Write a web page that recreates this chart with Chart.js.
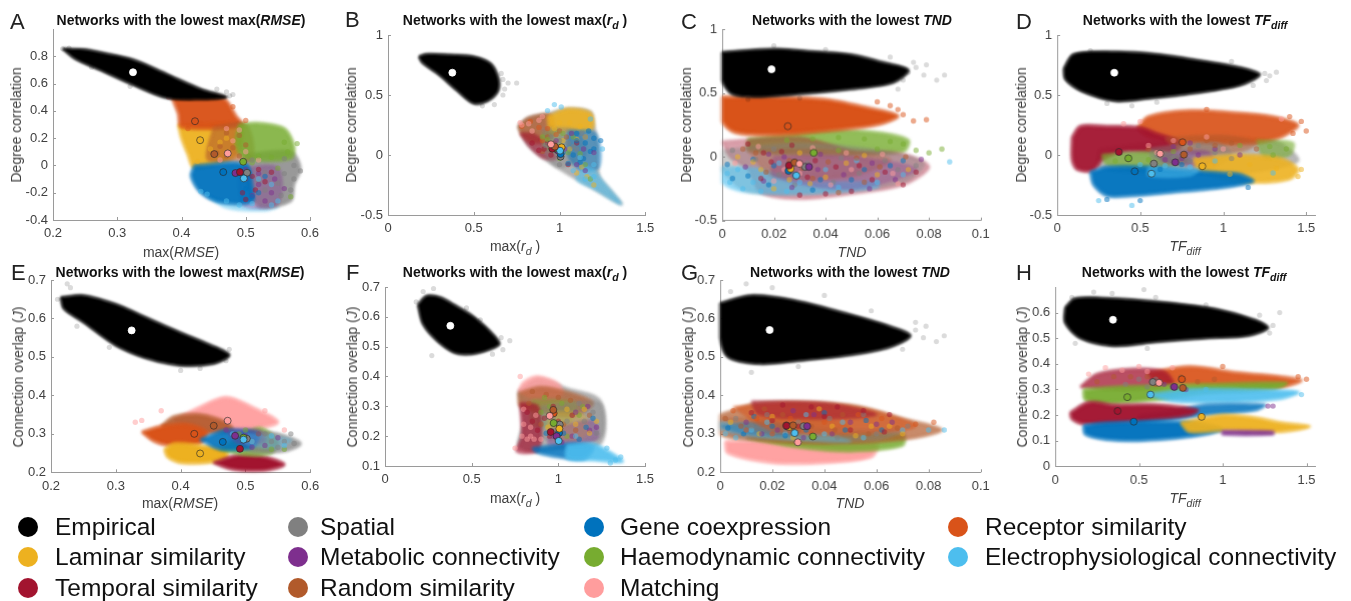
<!DOCTYPE html>
<html><head><meta charset="utf-8">
<script src="https://cdn.jsdelivr.net/npm/chart.js@4/dist/chart.umd.min.js"></script>
<style>
html,body{margin:0;padding:0;background:#fff;width:1351px;height:601px;overflow:hidden;font-family:"Liberation Sans",Arial,sans-serif}
.box{position:absolute;filter:blur(.4px)}
.t{position:absolute;white-space:nowrap;transform:translate(-50%,-50%);filter:blur(.25px);color:#404040;font-size:14px}
.t sub{font-size:.75em;vertical-align:-.35em;line-height:0}
.ti{color:#111;font-weight:bold;font-size:14px}
.l{color:#222;font-size:22px;transform:translate(0,-50%)}
.yl{transform:translate(-50%,-50%) rotate(-90deg)}
.leg{position:absolute;white-space:nowrap;transform:translateY(-50%);color:#111;font-size:24.5px;filter:blur(.25px)}
.dot{position:absolute;width:20px;height:20px;border-radius:50%;transform:translate(-50%,-50%)}
</style></head><body>
<script>
// Series, in legend order
const seriesNames=["Empirical","Spatial","Gene coexpression","Receptor similarity","Laminar similarity","Metabolic connectivity","Haemodynamic connectivity","Electrophysiological connectivity","Temporal similarity","Random similarity","Matching"];
const seriesColors=["#000000","#808080","#0072BD","#D95319","#EDB120","#7E2F8E","#77AC30","#4DBEEE","#A2142F","#B15A2B","#FF9D9D"];

// Axis ticks
const ticksRMSE=[0.2,0.3,0.4,0.5,0.6];
const ticksRd=[0,0.5,1,1.5];
const ticksTND=[0,0.02,0.04,0.06,0.08,0.1];
const ticksTF=[0,0.5,1,1.5];
const ticksDegA=[-0.4,-0.2,0,0.2,0.4,0.6,0.8];
const ticksDeg=[-0.5,0,0.5,1];
const ticksJ=[0.2,0.3,0.4,0.5,0.6,0.7];
const ticksJF=[0.1,0.2,0.3,0.4,0.5,0.6,0.7];
const ticksJH=[0,0.1,0.2,0.3,0.4,0.5,0.6];

// Medians, one per series in legend order
const medA_x=[.3245,.502,.465,.421,.429,.484,.496,.497,.491,.451,.472];
const medA_y=[.683,-.054,-.049,.324,.185,-.056,.027,-.095,-.049,.083,.088];
const medB_x=[.375,1.006,1.006,.973,1.012,.99,.973,1.003,.958,.973,.95];
const medB_y=[.686,-.014,.008,.06,.064,.04,.055,.036,.053,.07,.089];
const medC_x=[.0191,.0321,.0257,.0254,.0265,.0336,.0354,.0287,.0259,.028,.0299];
const medC_y=[.685,-.079,-.11,.239,-.094,-.079,.031,-.147,-.068,-.045,-.055];
const medD_x=[.344,.582,.467,.755,.874,.711,.429,.568,.372,.763,.62];
const medD_y=[.686,-.072,-.136,.106,-.094,-.061,-.028,-.156,.025,.003,.011];
const medE_x=[.3244,.502,.465,.421,.43,.484,.497,.497,.4915,.451,.4725];
const medE_y=[.569,.2875,.279,.3,.249,.295,.29,.285,.261,.321,.334];
const medF_x=[.377,1.008,1.004,.973,1.006,.99,.973,1.002,.956,.971,.95];
const medF_y=[.57,.239,.211,.2765,.225,.2,.244,.184,.214,.288,.268];
const medG_x=[.019,.032,.0258,.0254,.0266,.0334,.0356,.0286,.0255,.028,.0298];
const medG_y=[.57,.32,.319,.322,.318,.32,.293,.302,.321,.322,.278];
const medH_x=[.345,.583,.469,.756,.874,.711,.431,.569,.373,.762,.62];
const medH_y=[.572,.329,.174,.34,.193,.31,.27,.28,.216,.306,.326];

// Cloud extents (dense part of each cloud) and scattered networks
const A_EmpHull=[[.215,.855],[.25,.85],[.273,.83],[.325,.775],[.377,.67],[.43,.56],[.47,.5],[.43,.485],[.377,.495],[.325,.59],[.273,.7],[.235,.78]];
const A_EmpOut=[[.215,.855],[.225,.86],[.475,.51],[.48,.52],[.47,.54],[.455,.56],[.26,.72],[.32,.58]];
const A_RecHull=[[.385,.5],[.465,.49],[.485,.36],[.495,.29],[.4,.28],[.395,.38]];
const A_LamHull=[[.395,.3],[.49,.3],[.49,.1],[.47,.03],[.42,-.02],[.41,.08],[.4,.2]];
const A_RanHull=[[.45,.28],[.5,.3],[.51,.05],[.47,.03],[.44,.05]];
const A_HaeHull=[[.49,.3],[.52,.31],[.56,.27],[.575,.14],[.57,.05],[.5,.05],[.485,.15]];
const A_SpaHull=[[.5,.08],[.57,.1],[.585,-.02],[.575,-.14],[.57,-.26],[.52,-.3],[.5,-.1]];
const A_GenHull=[[.42,0],[.5,.01],[.51,-.15],[.51,-.27],[.46,-.27],[.43,-.2],[.415,-.08]];
const A_MetHull=[[.49,-.02],[.55,-.02],[.55,-.28],[.5,-.3],[.49,-.2]];
const A_EleHull=[[.44,-.22],[.5,-.3],[.55,-.3],[.53,-.33],[.47,-.31]];
const A_Rec=[[.48,.43],[.5,.33],[.41,.27],[.43,.31]];
const A_Lam=[[.46,.17],[.445,.12],[.425,.03],[.47,.2]];
const A_Ran=[[.47,.24],[.49,.22],[.46,.14],[.48,.13],[.455,.09],[.47,.07],[.49,.07],[.5,.15]];
const A_Mat=[[.48,.18],[.5,.1],[.47,.27],[.52,.04],[.38,.5],[.49,.26],[.46,.04]];
const A_Hae=[[.56,.17],[.565,.1],[.52,.07],[.54,.06],[.57,-.23],[.55,-.02],[.58,.16],[.51,.02]];
const A_Spa=[[.56,.05],[.575,0],[.585,-.04],[.53,-.05],[.56,-.06],[.575,-.1],[.55,-.13],[.57,-.18],[.555,-.22],[.53,-.18],[.51,.04],[.52,-.12]];
const A_Met=[[.5,-.1],[.52,-.14],[.54,-.2],[.51,-.22],[.53,-.26],[.5,-.03],[.52,-.06],[.545,-.1],[.56,-.17]];
const A_Tem=[[.49,-.05],[.51,-.08],[.495,-.2],[.52,-.03],[.53,-.12],[.515,-.18],[.54,-.05],[.5,-.25]];
const A_Ele=[[.47,-.26],[.49,-.29],[.51,-.28],[.54,-.29],[.44,-.21],[.43,-.19],[.52,-.1],[.54,-.14],[.55,-.26]];
const A_Gen=[[.5,-.17],[.505,-.05],[.51,-.23],[.52,-.2],[.53,-.08]];

const B_EmpHull=[[.18,.82],[.22,.84],[.35,.835],[.5,.82],[.6,.76],[.645,.63],[.64,.53],[.58,.45],[.5,.43],[.4,.54],[.3,.665],[.2,.77]];
const B_EmpOut=[[.67,.63],[.7,.6],[.75,.6],[.67,.5],[.62,.42],[.55,.41],[.68,.55],[.66,.68]];
const B_BaseHull=[[.76,.24],[.82,.31],[.92,.34],[1.05,.385],[1.18,.36],[1.2,.25],[1.22,.1],[1.23,-.17],[1.3,-.3],[1.36,-.41],[1.2,-.28],[1.05,-.16],[.92,-.04],[.82,.08]];
const B_LamHull=[[.93,.32],[1.05,.385],[1.18,.35],[1.19,.22],[1.05,.2],[.95,.2]];
const B_RanHull=[[.76,.24],[.82,.31],[.95,.33],[.96,.15],[.85,.1],[.78,.17]];
const B_TemHull=[[.77,.18],[.85,.17],[.95,.05],[.98,-.03],[.9,-.02],[.82,.08]];
const B_SpaHull=[[.9,.22],[1.1,.2],[1.15,0],[1,-.1],[.92,0]];
const B_GenHull=[[1.05,.2],[1.21,.18],[1.23,-.1],[1.12,-.12],[1.05,0]];
const B_EleHull=[[1.14,-.1],[1.2,-.12],[1.24,-.2],[1.36,-.41],[1.2,-.28],[1.1,-.2]];
const B_HaeHull=[[.9,.18],[1,.2],[1.02,.05],[.92,.05]];
const B_Lam=[[1,.27],[1.06,.27],[1.12,.24],[.97,.22],[1.16,-.18],[1.1,-.15],[1.2,-.25],[1.02,.12],[1.1,.13],[1.15,.15],[1.06,.05],[1.13,-.1],[.95,.07]];
const B_Ran=[[.97,.1],[1,.2],[.93,.15],[.9,.03],[1.04,.15]];
const B_Rec=[[.83,.28],[.88,.23],[.93,.22],[.78,.24],[.98,.17],[.9,.12]];
const B_Tem=[[.91,.05],[.95,0],[1.05,-.08],[.88,.04],[.93,.1],[1,.05],[.84,.1],[1.1,.1]];
const B_Mat=[[.78,.25],[.82,.26],[.77,.27],[.9,.32],[.84,.2],[.88,.29]];
const B_Spa=[[.95,.15],[1,.12],[1.05,.1],[1.1,.05],[.98,.03],[1.15,.15],[.92,.08],[1.08,.07],[1.13,.18],[1,-.08]];
const B_Hae=[[.93,.13],[1.02,.18],[1.08,.15],[1,-.03],[1.12,.01],[.9,.15],[1.05,.02],[1.15,-.08],[1.18,-.2]];
const B_Gen=[[1.1,.12],[1.15,.1],[1.18,.03],[1.14,-.03],[1.08,0],[1.2,.14],[1.05,-.07],[1.24,.12],[1.17,.2],[1.2,.05],[1.12,-.06],[1.1,.18],[1.02,.02]];
const B_Met=[[1.1,-.08],[1.03,.05],[1.14,.05],[1.15,-.13],[1.2,.02],[1.07,.18],[.98,.12]];
const B_Ele=[[1.2,-.18],[1.2,-.08],[1.15,-.2],[1.08,-.13],[.93,.37],[.97,.42],[1.25,.05],[1.01,.4],[1.18,.3],[1.12,-.02]];

const C_EmpHull=[[0,.82],[.02,.845],[.035,.825],[.05,.8],[.062,.74],[.072,.68],[.066,.58],[.05,.53],[.035,.5],[.015,.47],[.004,.49],[0,.6]];
const C_EmpOut=[[.072,.66],[.075,.7],[.079,.72],[.078,.64],[.083,.6],[.086,.64],[.07,.6],[.074,.74],[.065,.78],[.04,.84],[.02,.87],[.03,.46],[.01,.45],[.068,.53]];
const C_RecHull=[[0,.47],[.02,.47],[.04,.45],[.055,.39],[.068,.32],[.06,.25],[.04,.2],[.02,.17],[.005,.19],[0,.28]];
const C_HaeHull=[[.01,.14],[.04,.21],[.06,.19],[.072,.13],[.07,.04],[.04,.02],[.01,.05]];
const C_TemHull=[[0,.12],[.03,.15],[.05,.05],[.07,.02],[.08,-.08],[.07,-.22],[.05,-.29],[.03,-.33],[.015,-.28],[.01,-.1],[.003,0]];
const C_SpaHull=[[0,.05],[.03,.1],[.06,.05],[.078,-.05],[.07,-.2],[.04,-.28],[.01,-.27],[0,-.1]];
const C_EleHull=[[0,-.08],[.015,-.1],[.03,-.2],[.06,-.2],[.06,-.24],[.03,-.29],[.008,-.27],[0,-.2]];
const C_RanHull=[[.01,.05],[.04,.05],[.065,-.02],[.05,-.15],[.02,-.15]];
const C_MetHull=[[.02,0],[.05,0],[.075,-.1],[.05,-.25],[.02,-.15]];
const C_Rec=[[.07,.33],[.074,.28],[.079,.29],[.065,.4],[.06,.43],[.068,.37]];
const C_Hae=[[.025,.13],[.035,.14],[.045,.15],[.055,.14],[.065,.12],[.07,.1],[.045,.05],[.06,.06],[.08,.03],[.085,.06],[.075,.05]];
const C_Ele=[[.002,-.13],[.003,-.2],[.008,-.25],[.015,-.27],[.025,-.27],[.006,-.1],[.012,-.2],[.03,-.2],[.045,-.24],[.06,-.2],[.07,-.14],[.04,-.1],[.088,-.04],[.022,-.05],[.052,-.03]];
const C_Gen=[[.004,-.17],[.01,-.15],[.018,-.22],[.028,-.14],[.035,-.26],[.05,-.18],[.002,-.06],[.02,-.07],[.055,-.1],[.065,-.07],[.038,-.18],[.012,-.02],[.07,-.03]];
const C_Lam=[[.006,0],[.015,-.1],[.026,-.18],[.04,-.16],[.048,-.05],[.06,-.14],[.012,-.04],[.072,-.1],[.03,.03],[.034,-.21],[.055,.01],[.02,-.25]];
const C_Spa=[[.004,.05],[.013,-.02],[.022,-.14],[.033,-.05],[.043,-.2],[.053,-.13],[.063,-.03],[.075,-.07],[.02,.06],[.046,-.01],[.028,-.22],[.068,-.1]];
const C_Met=[[.009,-.08],[.018,.02],[.027,-.24],[.037,-.1],[.047,-.14],[.057,-.25],[.067,-.18],[.077,-.02],[.038,.02],[.016,-.19],[.058,-.05],[.024,.0]];
const C_Ran=[[.008,.06],[.017,-.12],[.031,-.09],[.041,-.04],[.052,-.01],[.061,-.08],[.071,0],[.026,-.03],[.045,-.28],[.035,-.17],[.055,-.2],[.013,.03]];
const C_Mat=[[.005,-.05],[.014,.08],[.024,-.1],[.035,.07],[.05,-.1],[.062,.02],[.068,-.21],[.03,-.13],[.02,-.19],[.042,-.22],[.048,.03],[.066,-.13]];
const C_Tem=[[.01,.1],[.016,.03],[.023,.04],[.03,-.3],[.04,-.29],[.05,-.27],[.036,-.03],[.044,-.08],[.058,-.18],[.07,-.22],[.015,-.17],[.075,-.12],[.027,.09],[.019,-.04],[.063,-.12],[.033,-.16],[.053,-.07]];

const D_EmpHull=[[.04,.72],[.1,.84],[.35,.86],[.6,.84],[.85,.79],[1.1,.73],[1.22,.67],[1.1,.58],[.8,.51],[.55,.47],[.35,.45],[.15,.53],[.05,.63]];
const D_EmpOut=[[1.25,.68],[1.28,.66],[1.32,.69],[.45,.41],[.3,.43],[1.18,.58],[1.05,.78],[.2,.87],[.6,.44],[1.26,.62]];
const D_BaseHull=[[.25,.05],[.7,.12],[1.3,.12],[1.45,-.05],[1.1,-.15],[.5,-.15],[.25,-.1]];
const D_RecHull=[[.48,.22],[.55,.32],[.8,.37],[1.1,.35],[1.3,.32],[1.45,.25],[1.35,.15],[1.2,.1],[.9,.1],[.55,.15]];
const D_TemHull=[[.09,.15],[.14,.24],[.3,.24],[.5,.23],[.6,.18],[.75,.1],[.7,.03],[.4,.03],[.27,-.04],[.22,-.13],[.12,-.12],[.09,-.04]];
const D_HaeHull=[[.27,0],[.6,.02],[.8,-.05],[.5,-.12],[.3,-.08]];
const D_HaeHull2=[[1.2,.12],[1.42,.1],[1.4,0],[1.25,-.02]];
const D_SpaHull=[[.55,.05],[.95,.1],[1.05,0],[.9,-.12],[.6,-.1]];
const D_RanHull=[[.65,.14],[1,.16],[1.2,.1],[1.1,.03],[.75,.03]];
const D_MetHull=[[.6,0],[.9,.03],[.95,-.08],[.65,-.06]];
const D_LamHull=[[.82,-.03],[1.1,0],[1.35,-.03],[1.45,-.12],[1.4,-.2],[1.2,-.23],[1,-.2],[.85,-.12]];
const D_GenHull=[[.2,-.14],[.3,-.1],[.55,-.1],[.8,-.13],[1,-.15],[1.1,-.16],[1.18,-.22],[.95,-.28],[.7,-.31],[.45,-.34],[.3,-.34],[.22,-.25]];
const D_EleHull=[[.55,-.1],[.85,-.12],[.8,-.17],[.55,-.17]];
const D_Rec=[[1.5,.2],[1.47,.28],[1.4,.32],[.9,.38],[1.42,.18]];
const D_Lam=[[.92,-.09],[1.16,-.08],[1.32,-.11],[1.04,-.16],[1.47,-.12],[1.45,-.18]];
const D_Gen=[[.3,-.37],[.5,-.38],[1.15,-.27],[.75,-.08],[.62,-.12]];
const D_Hae=[[.35,-.05],[.55,-.04],[1.28,.07],[1.38,.05],[1.3,0],[.7,.03],[1.1,.08]];
const D_Ele=[[.5,-.08],[.65,-.09],[.8,-.1],[1.3,-.15],[.45,-.42],[.25,-.38],[.95,-.05]];
const D_Spa=[[.7,-.02],[.8,-.05],[.6,0],[.95,.02],[.85,.08],[1.05,-.03]];
const D_Met=[[.75,-.03],[.85,0],[.65,-.04],[1.1,0],[.95,.05],[.8,.1],[.7,.07]];
const D_Ran=[[.8,.05],[.95,.08],[1.05,.1],[.9,.12],[1.2,.05],[.55,.05]];
const D_Mat=[[.6,.02],[.9,.15],[.55,.08],[1.35,.3],[.5,.28],[.4,.26],[.7,.12],[1.0,.05]];

const E_EmpHull=[[.215,.655],[.25,.66],[.3,.637],[.35,.6],[.4,.563],[.44,.535],[.475,.505],[.45,.482],[.4,.478],[.35,.495],[.3,.53],[.25,.59],[.22,.625]];
const E_EmpOut=[[.225,.69],[.23,.68],[.21,.65],[.475,.52],[.47,.49],[.4,.465],[.43,.47],[.24,.58],[.29,.525],[.47,.505]];
const E_MatHull=[[.39,.335],[.43,.37],[.47,.395],[.51,.37],[.55,.33],[.5,.31],[.42,.31]];
const E_RanHull=[[.37,.32],[.39,.345],[.43,.35],[.47,.33],[.48,.31],[.44,.3],[.4,.29]];
const E_RecHull=[[.34,.305],[.37,.32],[.41,.325],[.44,.305],[.43,.275],[.39,.268],[.36,.28]];
const E_LamHull=[[.375,.26],[.39,.275],[.43,.27],[.47,.26],[.47,.235],[.44,.225],[.4,.225],[.38,.24]];
const E_TemHull=[[.45,.225],[.49,.245],[.53,.24],[.56,.22],[.53,.205],[.48,.208]];
const E_HaeHull=[[.46,.26],[.52,.315],[.55,.28],[.54,.25],[.5,.245]];
const E_SpaHull=[[.5,.31],[.55,.3],[.585,.275],[.56,.255],[.5,.26]];
const E_GenHull=[[.43,.285],[.47,.31],[.52,.3],[.51,.265],[.46,.26]];
const E_MetHull=[[.47,.31],[.52,.31],[.53,.28],[.49,.275]];
const E_EleHull=[[.5,.3],[.57,.285],[.55,.265],[.5,.275]];
const E_Mat=[[.33,.33],[.34,.335],[.37,.36],[.53,.36],[.56,.31]];
const E_Hae=[[.54,.26],[.52,.3],[.5,.31],[.49,.3],[.56,.26]];
const E_Spa=[[.54,.28],[.56,.28],[.575,.275],[.55,.265],[.53,.3],[.57,.3],[.51,.28]];
const E_Ele=[[.51,.28],[.54,.295],[.56,.27],[.495,.285],[.48,.3]];
const E_Met=[[.5,.295],[.47,.31],[.53,.27],[.51,.265],[.55,.29],[.52,.3]];

const F_EmpHull=[[.19,.64],[.24,.67],[.32,.665],[.4,.64],[.5,.605],[.6,.555],[.66,.51],[.6,.49],[.5,.475],[.4,.48],[.3,.52],[.22,.575]];
const F_EmpOut=[[.28,.695],[.22,.685],[.67,.53],[.72,.52],[.27,.47],[.62,.475],[.47,.63],[.55,.59],[.68,.49],[.18,.65]];
const F_BaseHull=[[.77,.35],[.88,.39],[1.05,.36],[1.24,.32],[1.25,.18],[1.05,.16],[.85,.15],[.77,.17],[.8,.25]];
const F_MatHull=[[.77,.35],[.8,.38],[.88,.4],[1,.375],[1.02,.34],[.85,.33]];
const F_RanHull=[[.77,.345],[.9,.365],[1.1,.34],[1.2,.31],[1.1,.27],[.9,.28],[.78,.3]];
const F_HaeHull=[[.85,.32],[1.1,.31],[1.05,.24],[.85,.24]];
const F_TemHull=[[.78,.31],[.88,.3],[.9,.2],[.88,.15],[.76,.15],[.79,.2]];
const F_SpaHull=[[.9,.3],[1.24,.31],[1.25,.2],[1.1,.18],[.9,.2]];
const F_LamHull=[[.95,.28],[1.15,.27],[1.15,.2],[.95,.2]];
const F_MetHull=[[.95,.22],[1.2,.25],[1.22,.19],[.95,.17]];
const F_GenHull=[[.85,.16],[1.1,.175],[1.2,.16],[1.15,.125],[1,.13],[.88,.145]];
const F_EleHull=[[1.05,.17],[1.2,.175],[1.3,.145],[1.37,.115],[1.2,.12],[1.05,.125]];
const F_Mat=[[.82,.19],[.84,.23],[.79,.2],[.8,.24],[.86,.19],[.9,.19],[.75,.16],[.78,.4],[.87,.27],[.8,.29],[.84,.2]];
const F_Ran=[[.85,.35],[.93,.34],[1,.33],[1.07,.32],[.83,.31],[.95,.27],[1.1,.22],[1.18,.27],[1.03,.24],[.9,.24]];
const F_Hae=[[.95,.3],[1.02,.31],[.9,.28],[1.12,.27],[1.05,.2],[.97,.24],[1.14,.3],[.92,.33]];
const F_Tem=[[.82,.28],[.85,.25],[.88,.22],[.95,.2],[.92,.26],[1,.25],[1.08,.27],[.97,.3]];
const F_Spa=[[.97,.26],[1.05,.25],[1.15,.25],[1.2,.28],[.98,.22],[1.12,.31],[1.22,.21]];
const F_Met=[[.97,.2],[1.08,.2],[1.18,.22],[1.1,.28],[1.22,.23],[1.02,.18],[1.17,.3]];
const F_Lam=[[1,.23],[1.1,.24],[1.18,.21],[1.05,.29],[1.15,.29],[1.22,.25],[.94,.23]];
const F_Gen=[[1.12,.19],[1.03,.21],[1.2,.26],[1.16,.23],[.93,.21]];
const F_Ele=[[1.33,.12],[1.36,.13],[1.28,.16],[1.3,.11],[1.1,.2]];

const G_EmpHull=[[0,.64],[.012,.66],[.03,.645],[.05,.61],[.065,.58],[.073,.555],[.065,.525],[.05,.505],[.03,.49],[.015,.482],[.003,.5],[0,.55]];
const G_EmpOut=[[.075,.57],[.075,.59],[.079,.58],[.078,.55],[.083,.54],[.086,.555],[.012,.46],[.01,.69],[.02,.68],[.04,.66],[.058,.62],[.07,.52],[.03,.475],[.004,.67]];
const G_BaseHull=[[0,.35],[.015,.38],[.05,.375],[.07,.34],[.085,.31],[.07,.285],[.04,.275],[.01,.285],[0,.3]];
const G_MatHull=[[.002,.28],[.06,.275],[.058,.24],[.04,.225],[.02,.225],[.003,.25]];
const G_HaeHull=[[.01,.29],[.07,.3],[.07,.27],[.05,.255],[.03,.265]];
const G_SpaHull=[[0,.33],[.02,.32],[.05,.31],[.07,.31],[.06,.285],[.03,.285],[.005,.295]];
const G_RecHull=[[.005,.37],[.03,.38],[.055,.365],[.075,.32],[.05,.3],[.02,.31]];
const G_TemHull=[[.012,.385],[.04,.38],[.06,.35],[.04,.34],[.015,.35]];
const G_EleHull=[[0,.31],[.02,.29],[.05,.28],[.03,.31],[0,.33]];
const G_RanHull=[[0,.34],[.03,.34],[.05,.32],[.02,.3]];
const G_GenHull=[[0,.32],[.01,.3],[.03,.3],[.02,.33]];
const G_Ele=[[.002,.3],[.006,.29],[.012,.31],[.025,.3],[.04,.3],[.055,.29],[.07,.31],[.08,.31],[.086,.31],[.018,.33],[.047,.33],[.033,.35]];
const G_Gen=[[.003,.315],[.009,.3],[.02,.32],[.033,.31],[.048,.31],[.062,.31],[.013,.345],[.04,.355],[.056,.335],[.025,.295]];
const G_Lam=[[.004,.33],[.015,.3],[.028,.29],[.043,.32],[.058,.32],[.07,.3],[.02,.345],[.038,.365],[.052,.295],[.065,.32]];
const G_Spa=[[.006,.34],[.018,.35],[.03,.33],[.045,.29],[.06,.3],[.072,.32],[.012,.32],[.042,.34],[.055,.35],[.025,.31]];
const G_Met=[[.01,.33],[.022,.31],[.036,.35],[.05,.33],[.066,.33],[.028,.36],[.016,.3],[.043,.3],[.06,.325],[.032,.29]];
const G_Rec=[[.005,.36],[.014,.34],[.027,.34],[.04,.33],[.053,.35],[.062,.34],[.075,.325],[.02,.3],[.082,.33],[.035,.3],[.01,.31]];
const G_Ran=[[.008,.32],[.017,.365],[.035,.32],[.047,.35],[.057,.3],[.068,.315],[.03,.31],[.024,.35],[.044,.31],[.002,.34]];
const G_Tem=[[.024,.375],[.035,.37],[.045,.37],[.055,.36],[.065,.35],[.02,.335],[.04,.345],[.012,.355],[.03,.32],[.05,.31],[.063,.305]];

const H_EmpHull=[[.06,.62],[.12,.655],[.35,.655],[.65,.64],[.95,.615],[1.2,.57],[1.27,.54],[1.15,.51],[.9,.5],[.6,.485],[.35,.47],[.15,.5],[.06,.56]];
const H_EmpOut=[[1.3,.55],[1.34,.6],[.53,.69],[.23,.68],[.1,.66],[.12,.48],[1.28,.52],[1.22,.59],[.34,.675],[.6,.66],[.9,.63],[.55,.46]];
const H_RecHull=[[.55,.365],[.8,.39],[1.1,.365],[1.35,.35],[1.47,.335],[1.35,.31],[1.1,.31],[.8,.315],[.6,.33]];
const H_TemHullTop=[[.15,.31],[.25,.36],[.45,.38],[.65,.37],[.7,.32],[.5,.3],[.3,.3]];
const H_HaeHull=[[.17,.3],[.35,.31],[.65,.315],[.9,.32],[1.38,.325],[1.3,.3],[.9,.285],[.6,.26],[.3,.245],[.18,.26]];
const H_EleHull=[[.55,.28],[.8,.3],[1.1,.3],[1.45,.29],[1.35,.265],[1,.25],[.7,.255]];
const H_TemHullLow=[[.09,.21],[.2,.25],[.35,.24],[.6,.24],[.85,.22],[.8,.2],[.55,.18],[.35,.165],[.17,.165],[.1,.185]];
const H_GenHullTop=[[.5,.2],[.7,.215],[.9,.24],[1.25,.24],[1.2,.22],[.9,.2],[.5,.17]];
const H_GenHullLow=[[.17,.16],[.3,.17],[.6,.175],[.85,.17],[1,.145],[.8,.115],[.5,.1],[.3,.105],[.18,.125]];
const H_LamHull=[[.75,.17],[1,.2],[1.2,.19],[1.35,.17],[1.52,.155],[1.35,.135],[1,.14],[.8,.135]];
const H_MetHull=[[1,.138],[1.3,.135],[1.3,.125],[1,.125]];
const H_Rec=[[1.5,.34],[1.45,.35],[1,.39]];
const H_Ran=[[.25,.33],[.35,.35],[.45,.35],[.55,.35],[.6,.32],[.75,.35],[.85,.33],[.95,.34]];
const H_Mat=[[.4,.375],[.55,.37],[.7,.385],[.3,.385],[.2,.36],[.5,.39]];
const H_Spa=[[.5,.34],[.6,.34],[.55,.31],[.42,.32]];
const H_Met=[[.7,.31],[.78,.3],[1.27,.235],[1.3,.235],[.65,.32]];
const H_Ele=[[1.47,.28],[.9,.3]];

// Series indices
const EMP=0,SPA=1,GEN=2,REC=3,LAM=4,MET=5,HAE=6,ELE=7,TEM=8,RAN=9,MAT=10;

// Layout table: geometry and draw order. hulls: [series, extent, opacity]; specks: [series, points]
const panels=[
{L:53,R:310,T:29,B:220,xMin:.2,xMax:.6,yMin:-.4,yMax:1,xt:ticksRMSE,yt:ticksDegA,mx:medA_x,my:medA_y,emp:[A_EmpHull,A_EmpOut],
 hulls:[[ELE,A_EleHull,.45],[SPA,A_SpaHull,.8],[MET,A_MetHull,.35],[LAM,A_LamHull,.95],[REC,A_RecHull,.97],[RAN,A_RanHull,.6],[HAE,A_HaeHull,.85],[GEN,A_GenHull,.95]],
 specks:[[REC,A_Rec],[LAM,A_Lam],[RAN,A_Ran],[MAT,A_Mat],[HAE,A_Hae],[SPA,A_Spa],[MET,A_Met],[TEM,A_Tem],[ELE,A_Ele],[GEN,A_Gen]]},
{L:387.7,R:645,T:35,B:215,xMin:0,xMax:1.5,yMin:-.5,yMax:1,xt:ticksRd,yt:ticksDeg,mx:medB_x,my:medB_y,emp:[B_EmpHull,B_EmpOut],
 hulls:[[SPA,B_BaseHull,.6],[RAN,B_RanHull,.75],[LAM,B_LamHull,.9],[TEM,B_TemHull,.6],[HAE,B_HaeHull,.4],[SPA,B_SpaHull,.4],[GEN,B_GenHull,.5],[ELE,B_EleHull,.6]],
 specks:[[LAM,B_Lam],[RAN,B_Ran],[REC,B_Rec],[TEM,B_Tem],[MAT,B_Mat],[SPA,B_Spa],[HAE,B_Hae],[GEN,B_Gen],[MET,B_Met],[ELE,B_Ele]]},
{L:722.3,R:980,T:29.3,B:220,xMin:0,xMax:.1,yMin:-.5,yMax:1,xt:ticksTND,yt:ticksDeg,mx:medC_x,my:medC_y,emp:[C_EmpHull,C_EmpOut],
 hulls:[[HAE,C_HaeHull,.8],[TEM,C_TemHull,.4],[SPA,C_SpaHull,.4],[ELE,C_EleHull,.6],[RAN,C_RanHull,.3],[MET,C_MetHull,.3],[REC,C_RecHull,1]],
 specks:[[REC,C_Rec],[HAE,C_Hae],[ELE,C_Ele],[GEN,C_Gen],[LAM,C_Lam],[SPA,C_Spa],[MET,C_Met],[RAN,C_Ran],[MAT,C_Mat],[TEM,C_Tem]]},
{L:1057.3,R:1314.7,T:35,B:215,xMin:0,xMax:1.555,yMin:-.5,yMax:1,xt:ticksTF,yt:ticksDeg,mx:medD_x,my:medD_y,emp:[D_EmpHull,D_EmpOut],
 hulls:[[SPA,D_BaseHull,.55],[REC,D_RecHull,.92],[TEM,D_TemHull,.95],[HAE,D_HaeHull,.7],[HAE,D_HaeHull2,.6],[RAN,D_RanHull,.5],[SPA,D_SpaHull,.4],[MET,D_MetHull,.4],[LAM,D_LamHull,.9],[GEN,D_GenHull,.96],[ELE,D_EleHull,.5]],
 specks:[[REC,D_Rec],[LAM,D_Lam],[GEN,D_Gen],[HAE,D_Hae],[ELE,D_Ele],[SPA,D_Spa],[MET,D_Met],[RAN,D_Ran],[MAT,D_Mat]]},
{L:50.7,R:310,T:280,B:472.3,xMin:.2,xMax:.6,yMin:.2,yMax:.7,xt:ticksRMSE,yt:ticksJ,mx:medE_x,my:medE_y,emp:[E_EmpHull,E_EmpOut],
 hulls:[[MAT,E_MatHull,.95],[RAN,E_RanHull,.9],[REC,E_RecHull,1],[LAM,E_LamHull,1],[TEM,E_TemHull,1],[HAE,E_HaeHull,.8],[SPA,E_SpaHull,.75],[GEN,E_GenHull,.9],[MET,E_MetHull,.35],[ELE,E_EleHull,.35]],
 specks:[[MAT,E_Mat],[HAE,E_Hae],[SPA,E_Spa],[ELE,E_Ele],[MET,E_Met]]},
{L:385,R:645,T:286.7,B:465.7,xMin:0,xMax:1.5,yMin:.1,yMax:.7,xt:ticksRd,yt:ticksJF,mx:medF_x,my:medF_y,emp:[F_EmpHull,F_EmpOut],
 hulls:[[SPA,F_BaseHull,.6],[MAT,F_MatHull,.85],[RAN,F_RanHull,.7],[HAE,F_HaeHull,.4],[SPA,F_SpaHull,.4],[TEM,F_TemHull,.7],[LAM,F_LamHull,.35],[MET,F_MetHull,.35],[GEN,F_GenHull,.85],[ELE,F_EleHull,.9]],
 specks:[[MAT,F_Mat],[RAN,F_Ran],[HAE,F_Hae],[TEM,F_Tem],[SPA,F_Spa],[MET,F_Met],[LAM,F_Lam],[GEN,F_Gen],[ELE,F_Ele]]},
{L:720.3,R:980,T:280,B:472.3,xMin:0,xMax:.1,yMin:.2,yMax:.7,xt:ticksTND,yt:ticksJ,mx:medG_x,my:medG_y,emp:[G_EmpHull,G_EmpOut],
 hulls:[[MAT,G_MatHull,.95],[HAE,G_HaeHull,.85],[RAN,G_BaseHull,.7],[SPA,G_SpaHull,.45],[ELE,G_EleHull,.4],[GEN,G_GenHull,.4],[RAN,G_RanHull,.3],[REC,G_RecHull,.55],[TEM,G_TemHull,.55]],
 specks:[[ELE,G_Ele],[GEN,G_Gen],[LAM,G_Lam],[SPA,G_Spa],[MET,G_Met],[REC,G_Rec],[RAN,G_Ran],[TEM,G_Tem]]},
{L:1055,R:1314.7,T:286.7,B:466,xMin:0,xMax:1.555,yMin:0,yMax:.7,xt:ticksTF,yt:ticksJH,mx:medH_x,my:medH_y,emp:[H_EmpHull,H_EmpOut],
 hulls:[[REC,H_RecHull,.92],[TEM,H_TemHullTop,.75],[HAE,H_HaeHull,.95],[ELE,H_EleHull,.9],[GEN,H_GenHullTop,.85],[TEM,H_TemHullLow,.97],[GEN,H_GenHullLow,.97],[LAM,H_LamHull,.95],[MET,H_MetHull,.9]],
 specks:[[REC,H_Rec],[RAN,H_Ran],[MAT,H_Mat],[SPA,H_Spa],[MET,H_Met],[ELE,H_Ele]]}
];

// Texts
const letters=[["A",10,22],["B",345,20],["C",681,22],["D",1016,22],["E",11,273],["F",346,273],["G",681,273],["H",1016,273]];
const RMSE='max(<i>RMSE</i>)',RD='max(<i>r<sub>d</sub></i> )',TND='<i>TND</i>',TF='<i>TF<sub>diff</sub></i>';
const titles=[[RMSE,181,20],[RD,515,20],[TND,852,20],[TF,1185,20],[RMSE,180,272],[RD,515,272],[TND,850,272],[TF,1184,272]];
const xLabels=[[RMSE,181,252],[RD,515,246],[TND,852,252],[TF,1185,246],[RMSE,180,503],[RD,515,498],[TND,850,503],[TF,1185,498]];
const DEG='Degree correlation',CON='Connection overlap (<i>J</i>)';
const yLabels=[[DEG,16,125],[DEG,351,125],[DEG,686,125],[DEG,1021,125],[CON,18,377],[CON,352,377],[CON,688,377],[CON,1022,377]];
const legendCols=[[28,55],[298,320],[594,620],[958,985]];
const legendRows=[527,557,588];
const legendLayout=[[EMP,0,0],[SPA,1,0],[GEN,2,0],[REC,3,0],[LAM,0,1],[MET,1,1],[HAE,2,1],[ELE,3,1],[TEM,0,2],[RAN,1,2],[MAT,2,2]];

function addText(html,x,y,cls){const d=document.createElement('div');d.className=cls;d.innerHTML=html;d.style.left=x+'px';d.style.top=y+'px';document.body.appendChild(d);}
const rgba=(hex,a)=>{const n=parseInt(hex.slice(1),16);return `rgba(${n>>16},${(n>>8)&255},${n&255},${a})`;};
const pts=a=>a.map(p=>({x:p[0],y:p[1]}));

// Inward axis ticks, and soft edges for the dense parts of the clouds
const softFor=(c,i)=>{const d=c.data.datasets[i];c.ctx.filter=(d&&d.soft)?'blur('+d.soft+'px)':'none';};
const panelDecor={id:'panelDecor',
  beforeDatasetsDraw(c){const g=c.ctx,a=c.chartArea;g.save();g.strokeStyle='#9a9a9a';g.lineWidth=1;
    c.scales.x.ticks.forEach(t=>{const p=Math.round(c.scales.x.getPixelForValue(t.value))+.5;g.beginPath();g.moveTo(p,a.bottom);g.lineTo(p,a.bottom-3);g.stroke();});
    c.scales.y.ticks.forEach(t=>{const p=Math.round(c.scales.y.getPixelForValue(t.value))+.5;g.beginPath();g.moveTo(a.left,p);g.lineTo(a.left+3,p);g.stroke();});
    g.restore();softFor(c,c.data.datasets.length-1);},
  afterDatasetDraw(c,args){softFor(c,args.index-1);},
  afterDatasetsDraw(c){c.ctx.filter='none';}};

const PADL=52,PADT=14,PADR=22,PADB=34;
panels.forEach((p,i)=>{
  const box=document.createElement('div');box.className='box';
  const w=p.R-p.L+PADL+PADR,h=p.B-p.T+PADT+PADB;
  box.style.cssText=`left:${p.L-PADL}px;top:${p.T-PADT}px;width:${w}px;height:${h}px`;
  const cv=document.createElement('canvas');box.appendChild(cv);document.body.appendChild(box);
  const ds=[];
  const addHull=(s,hull,al,blur)=>ds.push({label:seriesNames[s]+' cloud',data:pts(hull.concat([hull[0]])),showLine:true,fill:'shape',tension:.3,soft:blur,
    pointRadius:0,backgroundColor:rgba(seriesColors[s],al),borderColor:rgba(seriesColors[s],al*.6),borderWidth:3,clip:false});
  const addSpecks=(s,data,r,al)=>ds.push({label:seriesNames[s],data:pts(data),pointRadius:r,pointBackgroundColor:rgba(seriesColors[s],al),pointBorderWidth:0,clip:false});
  p.hulls.forEach(h=>addHull(h[0],h[1],h[2],1.6));
  p.specks.forEach(sp=>addSpecks(sp[0],sp[1],2.7,.5));
  addSpecks(EMP,p.emp[1],2.6,.14);
  addHull(EMP,p.emp[0],1,1.2);
  ds.push({label:'Medians',data:p.mx.map((x,k)=>({x,y:p.my[k]})),pointRadius:3.5,
    pointBackgroundColor:seriesColors.map((c,k)=>k===EMP?'#fff':c),
    pointBorderColor:seriesColors.map((c,k)=>k===EMP?'#fff':'rgba(40,40,40,.8)'),pointBorderWidth:.8,clip:false});
  ds.reverse(); // Chart.js paints the first dataset last
  new Chart(cv,{type:'scatter',data:{datasets:ds},plugins:[panelDecor],options:{
    responsive:true,maintainAspectRatio:false,animation:false,
    layout:{padding:{top:PADT,right:PADR,left:0,bottom:0}},
    plugins:{legend:{display:false},tooltip:{enabled:false},filler:{propagate:false}},
    scales:{
      x:{type:'linear',min:p.xMin,max:p.xMax,afterBuildTicks:s=>{s.ticks=p.xt.map(v=>({value:v}));},afterFit:s=>{s.height=PADB;},
        grid:{display:false,drawTicks:false},border:{color:'#9a9a9a',width:1},
        ticks:{color:'#404040',font:{size:13,family:'"Liberation Sans"'},padding:6,maxRotation:0,autoSkip:false,callback:v=>String(v)}},
      y:{type:'linear',min:p.yMin,max:p.yMax,afterBuildTicks:s=>{s.ticks=p.yt.map(v=>({value:v}));},afterFit:s=>{s.width=PADL;},
        grid:{display:false,drawTicks:false},border:{color:'#9a9a9a',width:1},
        ticks:{color:'#404040',font:{size:13,family:'"Liberation Sans"'},padding:5,autoSkip:false,callback:v=>String(v)}}
    }}});
});
letters.forEach(l=>addText(l[0],l[1],l[2],'t l'));
titles.forEach(t=>addText('Networks with the lowest '+t[0],t[1],t[2],'t ti'));
xLabels.forEach(t=>addText(t[0],t[1],t[2],'t'));
yLabels.forEach(t=>addText(t[0],t[1],t[2],'t yl'));
legendLayout.forEach(e=>{
  const [s,c,r]=e,d=document.createElement('div');d.className='dot';d.style.left=legendCols[c][0]+'px';d.style.top=legendRows[r]+'px';d.style.background=seriesColors[s];document.body.appendChild(d);
  const t=document.createElement('div');t.className='leg';t.textContent=seriesNames[s];t.style.left=legendCols[c][1]+'px';t.style.top=legendRows[r]+'px';document.body.appendChild(t);
});
</script>
</body></html>
